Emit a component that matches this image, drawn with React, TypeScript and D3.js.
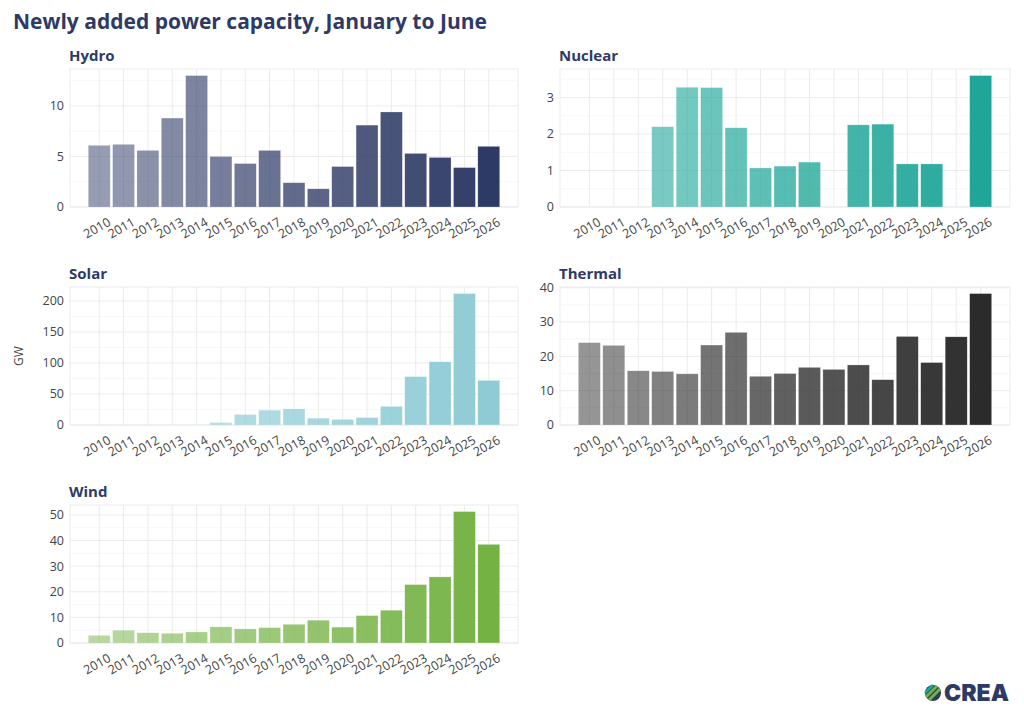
import React from "react";
import * as d3 from "d3";

const years = ["2010","2011","2012","2013","2014","2015","2016","2017","2018","2019","2020","2021","2022","2023","2024","2025","2026"];
const hydro = [6.1,6.2,5.6,8.8,13.0,5.0,4.3,5.6,2.4,1.8,4.0,8.1,9.4,5.3,4.9,3.9,6.0];
const nuclear = [0,0,0,2.2,3.28,3.27,2.17,1.07,1.12,1.23,0,2.25,2.27,1.18,1.18,0,3.6];
const solar = [0,0,0,0.2,0.5,4,17,24,26,11,9,12,30,78,102,212,72];
const thermal = [24,23.2,15.8,15.6,14.9,23.3,27,14.2,15,16.8,16.2,17.5,13.2,25.8,18.2,25.7,38.3];
const wind = [3,5,4,3.8,4.3,6.3,5.5,6,7.3,8.9,6.2,10.7,12.8,22.8,25.8,51.3,38.5];

const hydroTicks = [0,5,10];
const nuclearTicks = [0,1,2,3];
const solarTicks = [0,50,100,150,200];
const thermalTicks = [0,10,20,30,40];
const windTicks = [0,10,20,30,40,50];

const navy = "#2e3a66";
const font = "'Source Sans Pro','Open Sans',Lato,sans-serif";

const panels = [
  { name: "Hydro", values: hydro, ticks: hydroTicks, color: "#2e3a66", x0: 70, x1: 518, y0: 69, y1: 207 },
  { name: "Nuclear", values: nuclear, ticks: nuclearTicks, color: "#1fa699", x0: 560, x1: 1010, y0: 69, y1: 207 },
  { name: "Solar", values: solar, ticks: solarTicks, color: "#8ecbd5", x0: 70, x1: 518, y0: 287, y1: 425 },
  { name: "Thermal", values: thermal, ticks: thermalTicks, color: "#2b2b2b", x0: 560, x1: 1010, y0: 287, y1: 425 },
  { name: "Wind", values: wind, ticks: windTicks, color: "#74b244", x0: 70, x1: 518, y0: 505, y1: 643 },
];

function Panel({ p }: { p: any }) {
  const x = d3.scaleBand().domain(years).range([p.x0, p.x1]).paddingInner(0.1).paddingOuter(0.75);
  const max = d3.max(p.values as number[])! * 1.05;
  const y = d3.scaleLinear().domain([0, max]).range([p.y1, p.y0]);
  const step = p.ticks[1] - p.ticks[0];
  const minor = p.ticks.map((t: number) => t + step / 2).filter((t: number) => t < max);
  const op = d3.scaleLinear().domain([0, years.length - 1]).range([0.5, 1]);
  return (
    <g>
      <rect x={p.x0} y={p.y0} width={p.x1 - p.x0} height={p.y1 - p.y0} fill="none" stroke="#ebebeb" />
      {minor.map((t: number) => <line key={"m" + t} x1={p.x0} x2={p.x1} y1={y(t)} y2={y(t)} stroke="#f2f2f2" strokeWidth={0.6} />)}
      {p.ticks.map((t: number) => <line key={"t" + t} x1={p.x0} x2={p.x1} y1={y(t)} y2={y(t)} stroke="#ebebeb" strokeWidth={1} />)}
      {years.map((yr) => <line key={"v" + yr} x1={x(yr)! + x.bandwidth() / 2} x2={x(yr)! + x.bandwidth() / 2} y1={p.y0} y2={p.y1} stroke="#ebebeb" />)}
      {years.map((yr, i) => p.values[i] > 0 && (
        <rect key={yr} x={x(yr)} width={x.bandwidth()} y={y(p.values[i])} height={y(0) - y(p.values[i])}
          fill={p.color} fillOpacity={op(i)} stroke="#ffffff" strokeOpacity={0.5} strokeWidth={0.5} />
      ))}
      {p.ticks.map((t: number) => (
        <text key={"l" + t} x={p.x0 - 6} y={y(t)} dy="0.35em" textAnchor="end" fontSize={12.5} fill="#444" fontFamily={font}>{t}</text>
      ))}
      {years.map((yr) => (
        <text key={"x" + yr} transform={`translate(${x(yr)! + x.bandwidth() / 2 + 8},${p.y1 + 10}) rotate(-30)`}
          textAnchor="end" dy="0.7em" fontSize={12.5} fill="#444" fontFamily={font}>{yr}</text>
      ))}
      <text x={p.x0 - 1} y={p.y0 - 8} fontSize={15} fontWeight="bold" fill={navy} fontFamily={font}>{p.name}</text>
    </g>
  );
}

export default function App() {
  return (
    <svg width={1024} height={717} style={{ position: "absolute", left: 0, top: 0, background: "#fff" }}>
      <rect width={1024} height={717} fill="#fff" />
      <text x={13} y={29} fontSize={21} fontWeight="bold" fill={navy} fontFamily={font}>Newly added power capacity, January to June</text>
      {panels.map((p) => <Panel key={p.name} p={p} />)}
      <text transform="translate(23,356) rotate(-90)" textAnchor="middle" fontSize={12} fill="#444" fontFamily={font}>GW</text>
      <g transform="translate(933,693)">
        <circle r={8} fill="#2e3a66" />
        <path d="M-7,4 L4,-7 M-4,7 L7,-4" stroke="#74b244" strokeWidth={3} />
        <path d="M-8,0 L0,-8" stroke="#1fa699" strokeWidth={2.5} />
      </g>
      <text x={944} y={701} fontSize={23} fontWeight="900" fill={navy} fontFamily="Inter,'Open Sans',sans-serif">CREA</text>
    </svg>
  );
}
